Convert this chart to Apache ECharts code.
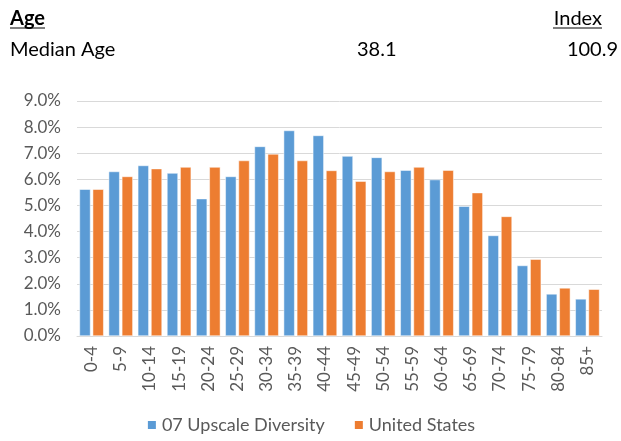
<!DOCTYPE html>
<html>
<head>
<meta charset="utf-8">
<script src="https://cdn.jsdelivr.net/npm/echarts@6/dist/echarts.min.js"></script>
<style>
  html, body { margin: 0; padding: 0; background: #fff; }
  #chart { width: 621px; height: 441px; }
</style>
</head>
<body>
<div id="chart"></div>
<script>
var ageGroups = ['0-4', '5-9', '10-14', '15-19', '20-24', '25-29', '30-34', '35-39', '40-44',
  '45-49', '50-54', '55-59', '60-64', '65-69', '70-74', '75-79', '80-84', '85+'];
var upscale = [5.62, 6.30, 6.53, 6.24, 5.26, 6.11, 7.26, 7.87, 7.68,
  6.89, 6.84, 6.35, 5.99, 4.97, 3.85, 2.70, 1.61, 1.42];
var usa = [5.62, 6.11, 6.41, 6.47, 6.47, 6.72, 6.97, 6.72, 6.34,
  5.93, 6.30, 6.47, 6.35, 5.49, 4.58, 2.94, 1.84, 1.79];
var seriesNames = ['07 Upscale Diversity', 'United States'];
var headerLabels = ['Age', 'Index'];
var medianRow = ['Median Age', '38.1', '100.9'];

var font = 'Lato, "Open Sans", sans-serif';
var myChart = echarts.init(document.getElementById('chart'));

function headText(text, x, y, align, bold) {
  return {
    type: 'text', x: x, y: y,
    style: {
      text: text, font: (bold ? 'bold ' : '') + '20px ' + font, fill: '#000',
      align: align, verticalAlign: 'middle'
    }
  };
}

var option = {
  animation: false,
  color: ['#5B9BD5', '#ED7D31'],
  textStyle: { fontFamily: font },
  graphic: [
    headText(headerLabels[0], 10, 19, 'left', true),
    { type: 'line', shape: { x1: 10, y1: 28, x2: 45, y2: 28 }, style: { stroke: '#000', lineWidth: 1 } },
    headText(headerLabels[1], 602, 19, 'right', false),
    { type: 'line', shape: { x1: 553, y1: 28, x2: 602, y2: 28 }, style: { stroke: '#000', lineWidth: 1 } },
    headText(medianRow[0], 10, 50, 'left', false),
    headText(medianRow[1], 357, 50, 'left', false),
    headText(medianRow[2], 618, 50, 'right', false)
  ],
  legend: {
    top: 416,
    left: 'center',
    padding: 0,
    itemWidth: 10,
    itemHeight: 10,
    itemGap: 28,
    icon: 'rect',
    textStyle: { color: '#595959', fontSize: 18, fontFamily: font },
    data: seriesNames
  },
  grid: { left: 77, right: 19, top: 101, bottom: 105 },
  xAxis: {
    type: 'category',
    data: ageGroups,
    axisLine: { lineStyle: { color: '#D9D9D9' } },
    axisTick: { show: false },
    axisLabel: { rotate: 90, color: '#595959', fontSize: 17, margin: 10, interval: 0 }
  },
  yAxis: {
    type: 'value',
    min: 0,
    max: 9,
    interval: 1,
    axisLine: { show: false },
    axisTick: { show: false },
    splitLine: { lineStyle: { color: '#D9D9D9', width: 1 } },
    axisLabel: {
      color: '#595959', fontSize: 17, margin: 16,
      formatter: function (v) { return v.toFixed(1) + '%'; }
    }
  },
  series: [
    {
      name: seriesNames[0], type: 'bar', data: upscale,
      barWidth: 11, barGap: '20%',
      itemStyle: { borderColor: '#fff', borderWidth: 0.5 }
    },
    {
      name: seriesNames[1], type: 'bar', data: usa,
      barWidth: 11, barGap: '20%',
      itemStyle: { borderColor: '#fff', borderWidth: 0.5 }
    }
  ]
};

myChart.setOption(option);
</script>
</body>
</html>
